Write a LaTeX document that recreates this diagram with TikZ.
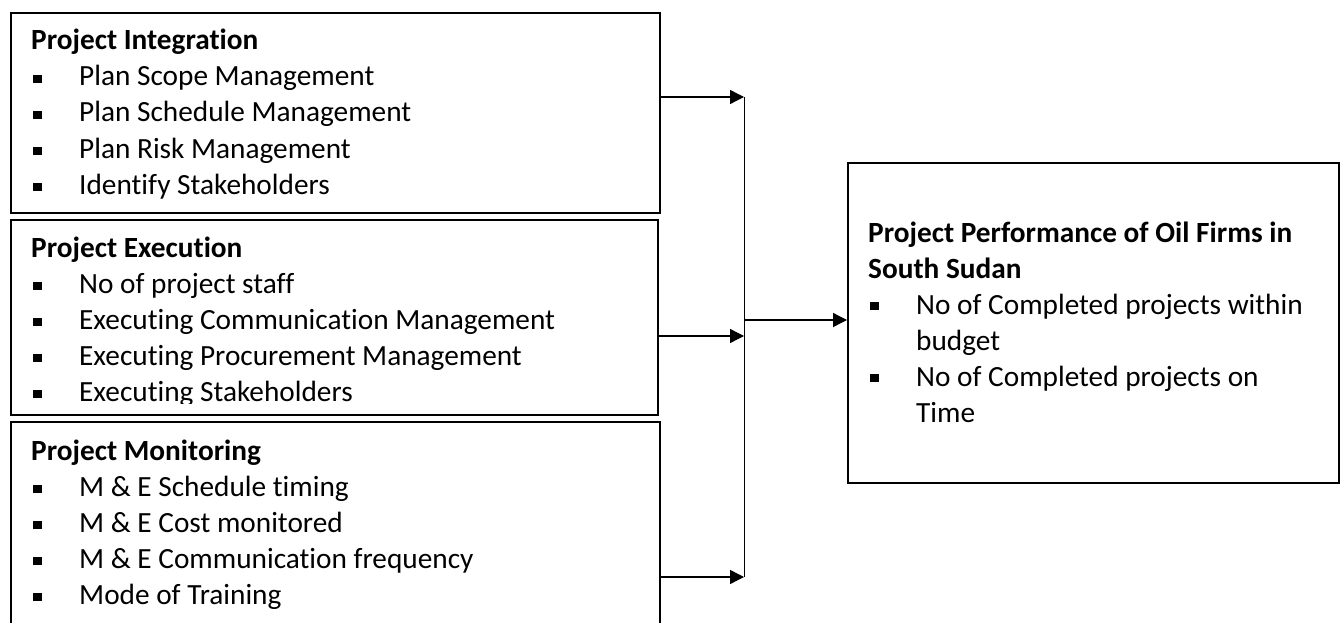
\documentclass[tikz,border=0pt]{standalone}
\usepackage{fontspec}
\setmainfont{Carlito}[Ligatures=NoCommon]
\usetikzlibrary{arrows.meta}
\begin{document}
\begin{tikzpicture}[x=1pt,y=-1pt,
  font=\fontsize{29.3}{36}\selectfont,
  box/.style={draw, line width=2pt, rectangle, inner sep=0pt, anchor=north west},
  hd/.style={anchor=base west, inner sep=0pt, font=\fontsize{29.3}{36}\selectfont\bfseries},
  it/.style={anchor=base west, inner sep=0pt},
  blt/.style={fill=black, rectangle, minimum size=8.5pt, inner sep=0pt},
  arr/.style={line width=1.3pt, -{Triangle[length=14pt,width=14pt]}},
  bus/.style={line width=1pt}]
\clip (0,0) rectangle (1344,623);
\fill[white] (0,0) rectangle (1344,623);
% boxes
\node[box, minimum width=649pt, minimum height=200pt] (b1) at (10,12) {};
\node[box, minimum width=647pt, minimum height=195pt] (b2) at (10,219) {};
\node[box, minimum width=649pt, minimum height=219pt] (b3) at (10,421) {};
\node[box, minimum width=491pt, minimum height=320pt] (r) at (847,162) {};
% box 1 text
\node[hd] (h1) at (31,50) {Project Integration};
\foreach \t [count=\i] in {Plan Scope Management, Plan Schedule Management, Plan Risk Management, Identify Stakeholders} {
  \node[it] (p\i) at (79,{50+36*\i}) {\t};
  \node[blt] (pb\i) at (37.5,{43+36*\i}) {};
}
% box 2 text
\begin{scope}
\clip (10,219) rectangle (657,403);
\node[hd] (h2) at (31,257) {Project Execution};
\foreach \t [count=\i] in {No of project staff, Executing Communication Management, Executing Procurement Management, Executing Stakeholders} {
  \node[it] (e\i) at (79,{257+36*\i}) {\t};
  \node[blt] (eb\i) at (37.5,{250+36*\i}) {};
}
\end{scope}
% box 3 text
\node[hd] (h3) at (31,460) {Project Monitoring};
\foreach \t [count=\i] in {M \& E Schedule timing, M \& E Cost monitored, M \& E Communication frequency, Mode of Training} {
  \node[it] (m\i) at (79,{460+36*\i}) {\t};
  \node[blt] (mb\i) at (37.5,{453+36*\i}) {};
}
% right box text
\node[hd] (rh1) at (868,242) {Project Performance of Oil Firms in};
\node[hd] (rh2) at (868,278) {South Sudan};
\node[blt] (rb1) at (874.5,306) {};
\node[it] (r1) at (916,314) {No of Completed projects within};
\node[it] (r1b) at (916,350) {budget};
\node[blt] (rb2) at (874.5,378) {};
\node[it] (r2) at (916,386) {No of Completed projects on};
\node[it] (r2b) at (916,422) {Time};
% connectors
\coordinate (j1) at (744,97);
\coordinate (j2) at (744,336);
\coordinate (j3) at (744,577);
\coordinate (jo) at (744,320);
\draw[bus] (j1) -- (j3);
\draw[arr] (j1 -| b1.east) -- (j1);
\draw[arr] (j2 -| b2.east) -- (j2);
\draw[arr] (j3 -| b3.east) -- (j3);
\draw[arr] (jo) -- (jo -| r.west);
\end{tikzpicture}
\end{document}
